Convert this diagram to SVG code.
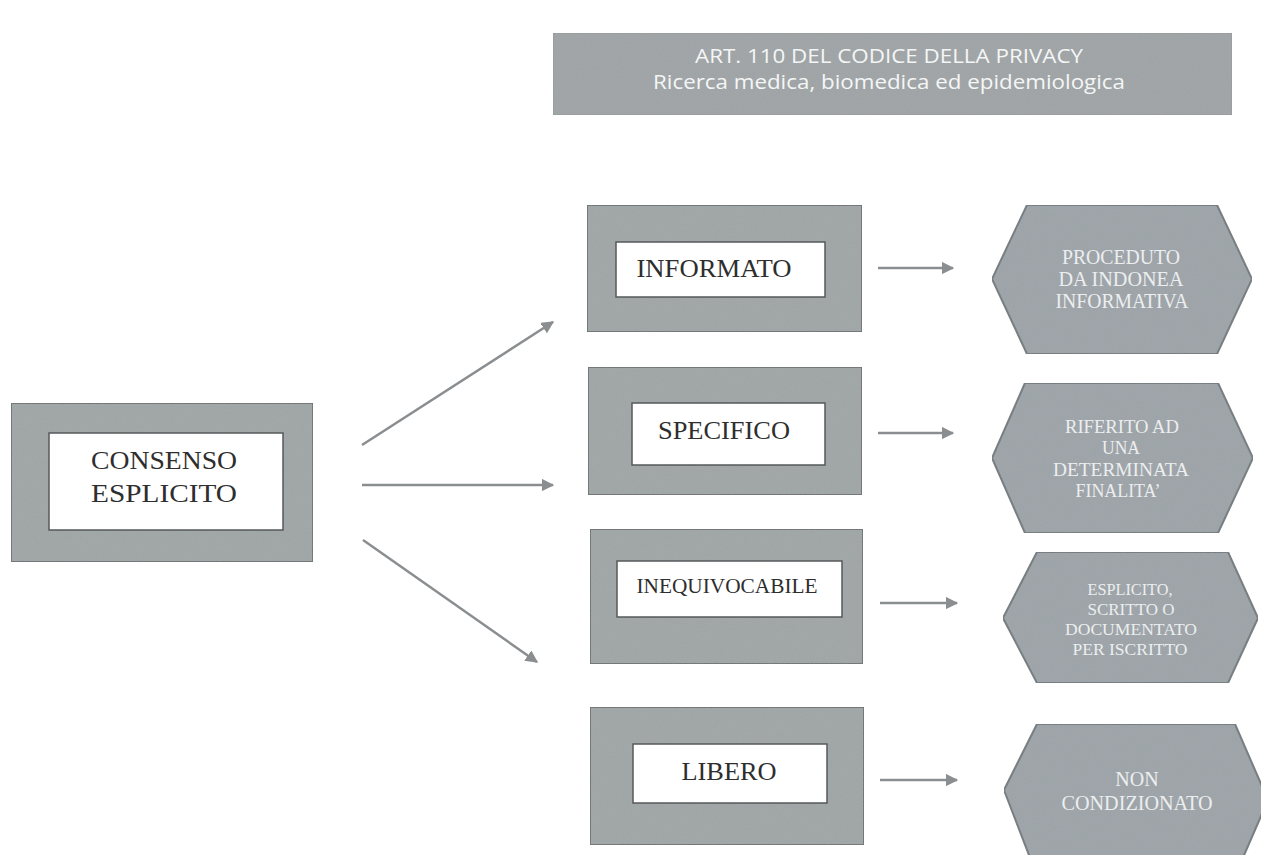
<svg xmlns="http://www.w3.org/2000/svg" width="1261" height="855" viewBox="0 0 1261 855">
<defs>
<marker id="ah" viewBox="0 0 10 10" refX="9" refY="5" markerWidth="5" markerHeight="5" orient="auto" markerUnits="strokeWidth">
<path d="M0,0 L10,5 L0,10 z" fill="#8a8e90"/>
</marker>
<filter id="grain" x="0" y="0" width="100%" height="100%">
<feTurbulence type="fractalNoise" baseFrequency="0.9" numOctaves="2" seed="3" result="n"/>
<feColorMatrix in="n" type="matrix" values="0 0 0 0 0.5  0 0 0 0 0.5  0 0 0 0 0.5  0 0 0 0.18 0" result="g"/>
<feComposite in="g" in2="SourceGraphic" operator="in" result="gc"/>
<feMerge><feMergeNode in="SourceGraphic"/><feMergeNode in="gc"/></feMerge>
</filter>
</defs>
<style>
.outer{fill:#9fa4a6;stroke:#6b6f71;stroke-width:2}
.inner{fill:#ffffff;stroke:#55595b;stroke-width:1.5}
.hex{fill:#9ba3a7;stroke:#70777a;stroke-width:2}
.lbl{font-family:"Liberation Serif","Times New Roman",serif;fill:#2e2e2e;text-anchor:middle}
.htx{font-family:"Liberation Serif","Times New Roman",serif;fill:#eceeef;text-anchor:middle}
.ttl{font-family:"Open Sans","Liberation Sans",sans-serif;fill:#f4f6f6;text-anchor:middle;font-size:20px}
.con{stroke:#8a8e90;stroke-width:2.5;fill:none;marker-end:url(#ah)}
</style>
<rect width="1261" height="855" fill="#ffffff"/>

<g id="title">
<rect x="553" y="33" width="679" height="82" fill="#9ea3a5" stroke="#8e9395" stroke-width="1" filter="url(#grain)"/>
<text class="ttl" x="889" y="63" textLength="388" lengthAdjust="spacingAndGlyphs">ART. 110 DEL CODICE DELLA PRIVACY</text>
<text class="ttl" x="889" y="89" textLength="472" lengthAdjust="spacingAndGlyphs">Ricerca medica, biomedica ed epidemiologica</text>
</g>

<g id="consenso">
<rect class="outer" x="11" y="403" width="302" height="159" filter="url(#grain)"/>
<rect class="inner" x="49" y="433" width="234" height="97"/>
<text class="lbl" x="164" y="469" font-size="25" textLength="146" lengthAdjust="spacingAndGlyphs">CONSENSO</text>
<text class="lbl" x="164" y="502" font-size="25" textLength="146" lengthAdjust="spacingAndGlyphs">ESPLICITO</text>
</g>

<g id="informato">
<rect class="outer" x="587" y="205" width="275" height="127" filter="url(#grain)"/>
<rect class="inner" x="616" y="242" width="209" height="55"/>
<text class="lbl" x="714" y="277" font-size="25" textLength="155" lengthAdjust="spacingAndGlyphs">INFORMATO</text>
</g>

<g id="specifico">
<rect class="outer" x="588" y="367" width="274" height="128" filter="url(#grain)"/>
<rect class="inner" x="632" y="403" width="193" height="62"/>
<text class="lbl" x="724" y="439" font-size="25" textLength="132" lengthAdjust="spacingAndGlyphs">SPECIFICO</text>
</g>

<g id="inequivocabile">
<rect class="outer" x="590" y="529" width="273" height="135" filter="url(#grain)"/>
<rect class="inner" x="617" y="561" width="225" height="56"/>
<text class="lbl" x="727" y="593" font-size="20" textLength="181" lengthAdjust="spacingAndGlyphs">INEQUIVOCABILE</text>
</g>

<g id="libero">
<rect class="outer" x="590" y="707" width="274" height="138" filter="url(#grain)"/>
<rect class="inner" x="633" y="744" width="194" height="59"/>
<text class="lbl" x="729" y="780" font-size="25" textLength="95" lengthAdjust="spacingAndGlyphs">LIBERO</text>
</g>

<g id="proceduto">
<polygon class="hex" points="1027,205 1217,205 1252,279 1217,354 1027,354 992,279" filter="url(#grain)"/>
<text class="htx" x="1121" y="264" font-size="20" textLength="118" lengthAdjust="spacingAndGlyphs">PROCEDUTO</text>
<text class="htx" x="1121" y="286" font-size="20" textLength="125" lengthAdjust="spacingAndGlyphs">DA INDONEA</text>
<text class="htx" x="1122" y="308" font-size="20" textLength="133" lengthAdjust="spacingAndGlyphs">INFORMATIVA</text>
</g>

<g id="riferito">
<polygon class="hex" points="1025,383 1218,383 1253,458 1218,533 1025,533 992,458" filter="url(#grain)"/>
<text class="htx" x="1122" y="433" font-size="19" textLength="114" lengthAdjust="spacingAndGlyphs">RIFERITO AD</text>
<text class="htx" x="1121" y="454" font-size="19" textLength="38" lengthAdjust="spacingAndGlyphs">UNA</text>
<text class="htx" x="1121" y="476" font-size="19" textLength="136" lengthAdjust="spacingAndGlyphs">DETERMINATA</text>
<text class="htx" x="1118" y="497" font-size="19" textLength="85" lengthAdjust="spacingAndGlyphs">FINALITA’</text>
</g>

<g id="esplicito">
<polygon class="hex" points="1037,552 1228,552 1258,618 1228,683 1037,683 1003,618" filter="url(#grain)"/>
<text class="htx" x="1130" y="595" font-size="17" textLength="85" lengthAdjust="spacingAndGlyphs">ESPLICITO,</text>
<text class="htx" x="1131" y="615" font-size="17" textLength="87" lengthAdjust="spacingAndGlyphs">SCRITTO O</text>
<text class="htx" x="1131" y="635" font-size="17" textLength="132" lengthAdjust="spacingAndGlyphs">DOCUMENTATO</text>
<text class="htx" x="1130" y="655" font-size="17" textLength="115" lengthAdjust="spacingAndGlyphs">PER ISCRITTO</text>
</g>

<g id="noncondizionato">
<polygon class="hex" points="1037,724 1235,724 1268,800 1235,876 1037,876 1004,790" filter="url(#grain)"/>
<text class="htx" x="1137" y="786" font-size="20">NON</text>
<text class="htx" x="1137" y="810" font-size="20" textLength="151" lengthAdjust="spacingAndGlyphs">CONDIZIONATO</text>
</g>

<g id="connectors">
<line class="con" x1="362" y1="445" x2="553" y2="322"/>
<line class="con" x1="362" y1="485" x2="553" y2="485"/>
<line class="con" x1="363" y1="540" x2="537" y2="662"/>
<line class="con" x1="878" y1="268" x2="953" y2="268"/>
<line class="con" x1="878" y1="433" x2="953" y2="433"/>
<line class="con" x1="880" y1="603" x2="957" y2="603"/>
<line class="con" x1="880" y1="780" x2="957" y2="780"/>
</g>
</svg>
